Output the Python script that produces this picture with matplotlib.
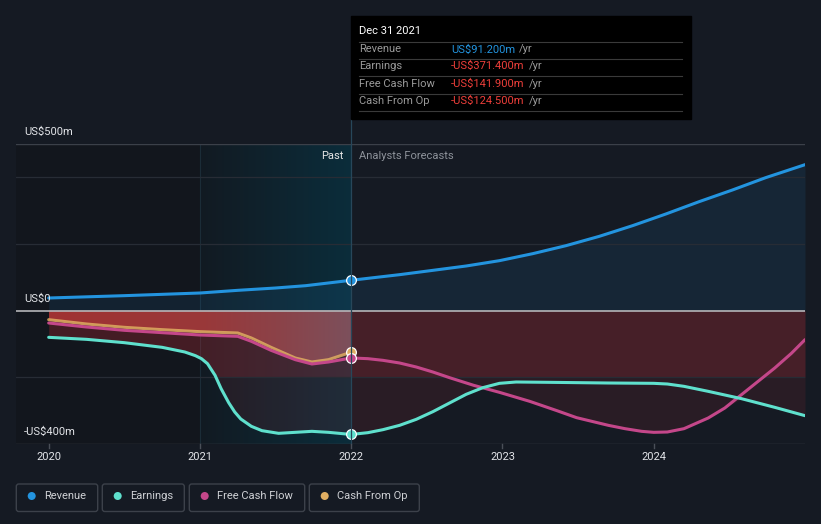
import numpy as np
import matplotlib
matplotlib.use('Agg')
import matplotlib.pyplot as plt
from matplotlib.patches import Rectangle, FancyBboxPatch, Circle
from matplotlib.path import Path

plt.rcParams['font.family'] = ['Roboto', 'DejaVu Sans']

# ---------------- data (US$ m) ----------------
rev_years = [2020.0, 2020.5, 2021.0, 2021.25, 2021.5, 2021.7, 2022.0, 2022.32, 2022.54, 2022.76,
             2022.98, 2023.2, 2023.42, 2023.64, 2023.86, 2024.08, 2024.3, 2024.52, 2024.74, 2025.0]
rev_vals = [38, 45, 53, 61, 68, 75, 91.2, 108, 121, 134,
            150, 171, 195, 223, 255, 290, 327, 362, 399, 438]

earn_years = [2020.0, 2020.25, 2020.5, 2020.75, 2020.9, 2020.97, 2021.01, 2021.05, 2021.1, 2021.14,
              2021.19, 2021.23, 2021.27, 2021.34, 2021.41, 2021.52, 2021.63, 2021.74, 2021.85, 2022.0,
              2022.11, 2022.21, 2022.32, 2022.43, 2022.54, 2022.65, 2022.76, 2022.87, 2022.98, 2023.09,
              2023.31, 2023.7, 2024.0, 2024.09, 2024.2, 2024.36, 2024.58, 2024.8, 2025.0]
earn_vals = [-80, -86, -96, -110, -124, -135, -144, -159, -194, -234,
             -276, -304, -325, -347, -360, -368, -365, -362, -365, -371.4,
             -366, -357, -344, -326, -303, -277, -251, -231, -218, -214,
             -215, -217, -218, -220, -227, -242, -264, -290, -315]

fcf_years = [2020.0, 2020.25, 2020.5, 2020.75, 2021.0, 2021.25, 2021.34, 2021.47, 2021.63, 2021.74,
             2021.85, 2022.0, 2022.11, 2022.21, 2022.32, 2022.43, 2022.54, 2022.65, 2022.81, 2022.98,
             2023.18, 2023.36, 2023.49, 2023.7, 2023.81, 2023.92, 2024.0, 2024.09, 2024.2, 2024.36,
             2024.47, 2024.58, 2024.69, 2024.8, 2024.91, 2025.0]
fcf_vals = [-37, -49, -59, -66, -73, -77, -92, -119, -147, -160,
            -154, -141.9, -144, -149, -157, -169, -184, -201, -224, -245,
            -272, -300, -321, -344, -354, -362, -365, -364, -354, -322,
            -292, -252, -212, -172, -128, -87]

cfo_years = [2020.0, 2020.25, 2020.5, 2020.75, 2021.0, 2021.25, 2021.34, 2021.47, 2021.63, 2021.74,
             2021.85, 2022.0]
cfo_vals = [-27, -40, -50, -57, -63, -67, -82, -110, -142, -154,
            -147, -124.5]

year_ticks = [2020, 2021, 2022, 2023, 2024]
y_labels = [(500, 'US$500m'), (0, 'US$0'), (-400, '-US$400m')]
grid_vals = [400, 200, -200]

tooltip_date = 'Dec 31 2021'
tooltip_rows = [('Revenue', 'US$91.200m'), ('Earnings', '-US$371.400m'),
                ('Free Cash Flow', '-US$141.900m'), ('Cash From Op', '-US$124.500m')]
legend_names = ['Revenue', 'Earnings', 'Free Cash Flow', 'Cash From Op']

# ---------------- style ----------------
C_REV = '#2394df'
C_EARN = '#5fe0cd'
C_FCF = '#c4478a'
C_CFO = '#e0ae62'
BG = '#151a23'

W, H = 821, 524
fig = plt.figure(figsize=(W / 100, H / 100), dpi=100)
fig.patch.set_facecolor(BG)

AX_L, AX_R, AX_T, AX_B = 16, 805, 144, 444
ax = fig.add_axes([AX_L / W, 1 - AX_B / H, (AX_R - AX_L) / W, (AX_B - AX_T) / H])
ax.set_facecolor('none')
X0, X1 = 2019.784, 2025.0
Y0, Y1 = -400, 500
ax.axis('off')


def c255(*v):
    return tuple(x / 255 for x in v[:3]) + ((v[3],) if len(v) > 3 else (1.0,))


def hgrad(x0, x1, y0, y1, stops, z, clip=None, n=400):
    xs = np.linspace(x0, x1, n)
    arr = np.zeros((2, n, 4))
    pos = [s[0] for s in stops]
    for ch in range(4):
        arr[:, :, ch] = np.interp(xs, pos, [s[1][ch] for s in stops])
    im = ax.imshow(arr, extent=[x0, x1, y0, y1], origin='lower', aspect='auto',
                   interpolation='bilinear', zorder=z)
    if clip is not None:
        im.set_clip_path(clip, ax.transData)
    return im


def poly_path(pc):
    paths = pc.get_paths()
    pc.remove()
    return Path.make_compound_path(*paths)


# background bands
ax.add_patch(Rectangle((X0, Y0), 2021 - X0, Y1 - Y0, color='#12161d', zorder=0.5, lw=0))
hgrad(2021, 2022, Y0, Y1, [(2021, c255(18, 26, 34)), (2022, c255(11, 45, 59))], 1)
ax.plot([2021, 2021], [Y0, Y1], color='#1b2c37', lw=0.8, zorder=1.1)

# revenue area
ax.fill_between(rev_years, 0, rev_vals, color=C_REV, alpha=0.1, lw=0, zorder=2)

# negative areas
grid = np.union1d(np.union1d(earn_years, fcf_years), cfo_years)
e_i = np.interp(grid, earn_years, earn_vals)
f_i = np.interp(grid, fcf_years, fcf_vals)
minline = np.minimum(e_i, f_i)
ax.fill_between(grid, 0, np.maximum(minline, -200), color=c255(205, 45, 55, 0.27), lw=0, zorder=2.2)
ax.fill_between(grid, -200, minline, where=minline < -200, interpolate=True,
                color=c255(205, 45, 55, 0.11), lw=0, zorder=2.3)
clipC = poly_path(ax.fill_between(cfo_years, 0, cfo_vals, lw=0))
hgrad(2020, 2022, -200, 0, [(2020, c255(160, 50, 50)), (2021, c255(154, 56, 57)),
                             (2021.5, c255(140, 66, 72)), (2022, c255(124, 80, 92))], 2.5, clip=clipC)

# grid
for g in grid_vals:
    ax.plot([X0, X1], [g, g], color='#272c35', lw=0.9, zorder=3)
ax.plot([X0, X1], [Y1, Y1], color='#3b4049', lw=1.0, zorder=3)
ax.plot([X0, X1], [Y0, Y0], color='#3b4049', lw=1.0, zorder=3)
ax.plot([X0, X1], [0, 0], color='#b5b5b8', lw=1.2, zorder=3.5)

# lines
LW = 2.2
ax.plot(cfo_years, cfo_vals, color=C_CFO, lw=LW, zorder=4, solid_capstyle='round',
        solid_joinstyle='round', alpha=0.85)
ax.plot(fcf_years, fcf_vals, color=C_FCF, lw=LW, zorder=4.1, solid_capstyle='round',
        solid_joinstyle='round')
ax.plot(earn_years, earn_vals, color=C_EARN, lw=LW, zorder=4.2, solid_capstyle='round',
        solid_joinstyle='round')
ax.plot(rev_years, rev_vals, color=C_REV, lw=LW, zorder=4.3, solid_capstyle='round',
        solid_joinstyle='round')

# markers at the tooltip date
for yrs, vals, col in [(cfo_years, cfo_vals, C_CFO), (fcf_years, fcf_vals, C_FCF),
                       (earn_years, earn_vals, C_EARN), (rev_years, rev_vals, C_REV)]:
    i = yrs.index(2022.0)
    ax.plot([yrs[i]], [vals[i]], 'o', ms=7, mfc=col, mec='white', mew=0.9, zorder=6)

ax.set_xlim(X0, X1)
ax.set_ylim(Y0, Y1)

# ---------------- overlay in pixel coords ----------------
ov = fig.add_axes([0, 0, 1, 1])
ov.set_xlim(0, W)
ov.set_ylim(H, 0)
ov.axis('off')
ov.patch.set_alpha(0)
ov.set_zorder(10)


def px(xd, yd):
    xd_, yd_ = ax.transData.transform((xd, yd))
    return xd_, H - yd_


TXT = '#e2e4e8'
FS = 8

# y labels
for v, lab in y_labels:
    _, yp = px(X0, v)
    ov.text(24, yp - 12, lab, color=TXT, fontsize=FS, ha='left', va='center')

# x labels & ticks
for yr in year_ticks:
    xp, yp = px(yr, Y0)
    ov.plot([xp, xp], [yp, yp + 4], color='#4a4f58', lw=1)
    ov.text(xp, yp + 12.5, str(yr), color=TXT, fontsize=FS, ha='center', va='center')

# past / forecast
xp22, _ = px(2022, 0)
_, ytop = px(2022, Y1)
ov.text(xp22 - 8, ytop + 12, 'Past', color='#e6e6e6', fontsize=FS, ha='right', va='center')
ov.text(xp22 + 8, ytop + 12, 'Analysts Forecasts', color='#8d929a', fontsize=FS, ha='left', va='center')

# vertical marker line
_, ybot = px(2022, Y0)
ov.plot([xp22, xp22], [119, ybot], color='#27475a', lw=0.9, zorder=1)

# tooltip
ov.add_patch(Rectangle((xp22, 15.5), 691 - xp22, 103.5, color='#000000', zorder=2))
ov.text(359, 31, tooltip_date, color='#ffffff', fontsize=FS, ha='left', va='center', zorder=3)
sep_y = [41.7, 58.5, 76.2, 93.5, 111]
for sy in sep_y:
    ov.plot([359, 682], [sy, sy], color='#3a3a3a', lw=0.8, zorder=3)
row_y = [49.5, 66.3, 84, 101]
fig.canvas.draw()
rend = fig.canvas.get_renderer()
for (lab, val), ry in zip(tooltip_rows, row_y):
    ov.text(359, ry, lab, color='#9a9a9a', fontsize=FS, ha='left', va='center', zorder=3)
    col = C_REV if not val.startswith('-') else '#ee3f3a'
    t = ov.text(451, ry, val, color=col, fontsize=FS, ha='left', va='center', zorder=3)
    bb = t.get_window_extent(rend)
    ov.text(bb.x1 + 4, ry, '/yr', color='#9a9a9a', fontsize=FS, ha='left', va='center', zorder=3)

# legend
boxes = [(16.3, 97.7), (102.3, 184.3), (189.3, 304.7), (309.3, 419.3)]
dot_cols = [C_REV, C_EARN, C_FCF, C_CFO]
for (bx0, bx1), name, col in zip(boxes, legend_names, dot_cols):
    ov.add_patch(FancyBboxPatch((bx0, 484), bx1 - bx0, 27.5,
                                boxstyle='round,pad=0,rounding_size=2.5',
                                fc='none', ec='#3c414a', lw=1.0))
    ov.add_patch(Circle((bx0 + 15.4, 496), 4.0, color=col, lw=0))
    ov.text(bx0 + 28, 496, name, color='#cfd1d5', fontsize=FS, ha='left', va='center')

fig.savefig('out.png', dpi=100, facecolor=BG)
